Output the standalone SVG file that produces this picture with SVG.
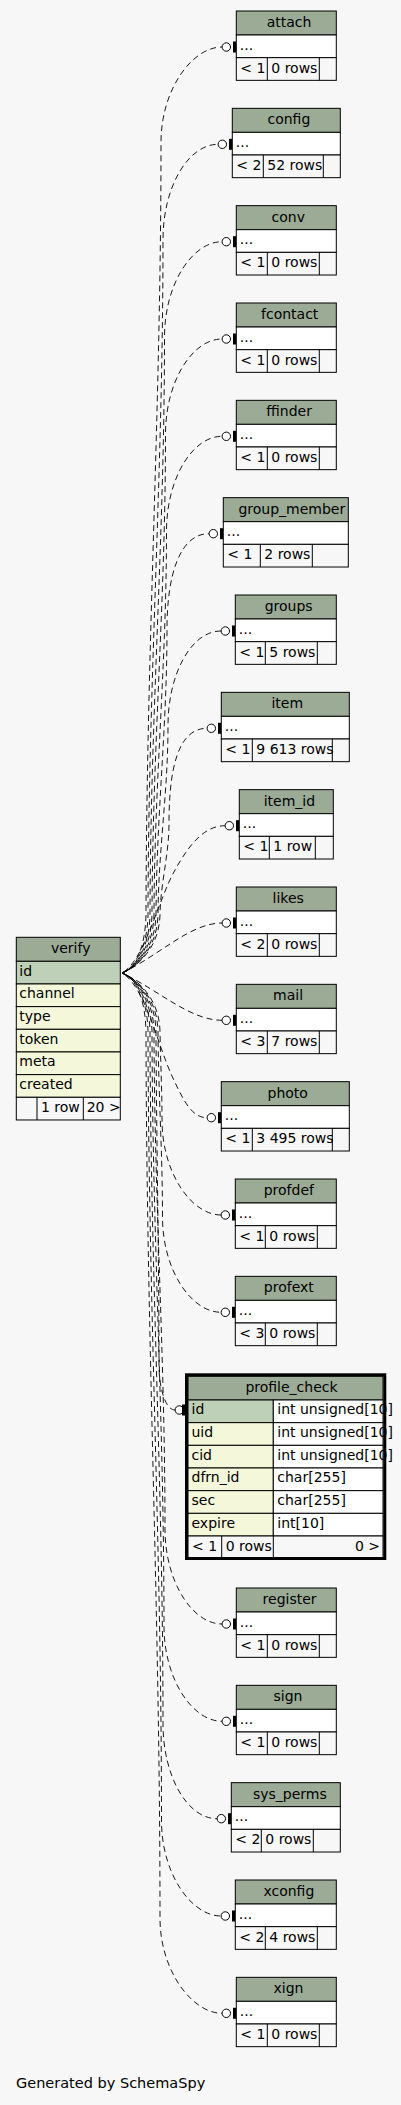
<svg xmlns="http://www.w3.org/2000/svg" width="401" height="2105" viewBox="0 0 401 2105">
<style>
text{font-family:"DejaVu Sans","Liberation Sans",sans-serif;font-size:14px;fill:#000}
.c{text-anchor:middle}
.e{text-anchor:end}
.hd{fill:#9bab96;stroke:#000;stroke-width:1}
.rw{fill:#fff;stroke:#000;stroke-width:1}
.ty{fill:#fff;stroke:#000;stroke-width:1}
.ft{fill:#f7f7f7;stroke:#000;stroke-width:1}
.pk{fill:#bed1b8;stroke:#000;stroke-width:1}
.col{fill:#f4f7da;stroke:#000;stroke-width:1}
.sp{stroke:#000;stroke-width:1}
.edge{fill:none;stroke:#000;stroke-width:0.9;stroke-dasharray:6,4}
.d1{stroke-dashoffset:2}.d2{stroke-dashoffset:4}.d3{stroke-dashoffset:6}.d4{stroke-dashoffset:8}
.o{fill:#fff;stroke:#000;stroke-width:1}
.bar{fill:#000}
</style>
<rect x="0" y="0" width="401" height="2105" fill="#f7f7f7"/>

<g id="connectors">
<path class="edge" d="M122,973 C135,968 145,950 146,915 C146.5,644.4 161,412.6 161,142 C161,89.8 192.1,47 222.1,47"/>
<path class="edge d3" d="M122,973 C135,968 147,950 148,915 C148.5,678.5 163,475.8 163,239.3 C163,187 188.1,144.3 218.1,144.3"/>
<path class="edge d1" d="M122,973 C135,968 149,950 150,915 C150.5,712.6 164.5,539.1 164.5,336.7 C164.5,284.4 192.1,241.7 222.1,241.7"/>
<path class="edge d4" d="M122,973 C135,968 151,950 152,915 C152.5,746.6 165.5,602.4 165.5,434 C165.5,381.8 192.1,339 222.1,339"/>
<path class="edge d2" d="M122,973 C135,968 153,950 154,915 C154.5,780.7 166.5,665.6 166.5,531.3 C166.5,479 192.1,436.3 222.1,436.3"/>
<path class="edge" d="M122,973 C135,968 155,950 156,915 C156.5,814.8 167,728.9 167,628.7 C167,576.4 179.1,533.7 209.1,533.7"/>
<path class="edge d3" d="M122,973 C135,968 157,950 158,915 C158.5,848.9 168,792.2 168,726 C168,673.8 191.1,631 221.1,631"/>
<path class="edge d1" d="M122,973 C135,968 159,950 160,915 C160.5,882.9 169,855.4 169,823.3 C169,771 177.1,728.3 207.1,728.3"/>
<path class="edge d4" d="M122,973 C145,960 158,900 175,870 C190,843 205,825.7 225.1,825.7"/>
<path class="edge" d="M122,973 C160,955 190,923 222.1,923"/>
<path class="edge d2" d="M122,973 C160,991 190,1020.3 222.1,1020.3"/>
<path class="edge d3" d="M122,973 C145,986 158,1046 172,1076 C184,1102 192,1117.7 207.1,1117.7"/>
<path class="edge d1" d="M122,973 C135,978 159,996 160,1031 C160.5,1062.2 162,1088.9 162,1120 C162,1172.3 191.1,1215 221.1,1215"/>
<path class="edge d4" d="M122,973 C135,978 157,996 158,1031 C158.5,1096.2 162.5,1152.1 162.5,1217.3 C162.5,1269.6 191.1,1312.3 221.1,1312.3"/>
<path class="edge" d="M122,973 C135,978 155,996 156,1031 C156.5,1148.4 159,1248.9 159,1366 C159,1386.5 165,1410 175.1,1410"/>
<path class="edge d2" d="M122,973 C135,978 153,996 154,1031 C154.5,1205.3 165,1354.7 165,1529 C165,1581.3 192.1,1624 222.1,1624"/>
<path class="edge d3" d="M122,973 C135,978 151,996 152,1031 C152.5,1239.4 164,1417.9 164,1626.3 C164,1678.6 192.1,1721.3 222.1,1721.3"/>
<path class="edge d1" d="M122,973 C135,978 149,996 150,1031 C150.5,1273.4 163,1481.3 163,1723.7 C163,1776 187.1,1818.7 217.1,1818.7"/>
<path class="edge d4" d="M122,973 C135,978 147,996 148,1031 C148.5,1307.5 161.5,1544.5 161.5,1821 C161.5,1873.3 191.1,1916 221.1,1916"/>
<path class="edge d2" d="M122,973 C135,978 145,996 146,1031 C146.5,1341.6 160,1607.7 160,1918.3 C160,1970.6 192.1,2013.3 222.1,2013.3"/>
<circle class="o" cx="226.3" cy="47" r="4.2"/><rect class="bar" x="233" y="41.5" width="3.3" height="11"/>
<circle class="o" cx="222.3" cy="144.3" r="4.2"/><rect class="bar" x="229" y="138.8" width="3.3" height="11"/>
<circle class="o" cx="226.3" cy="241.7" r="4.2"/><rect class="bar" x="233" y="236.2" width="3.3" height="11"/>
<circle class="o" cx="226.3" cy="339" r="4.2"/><rect class="bar" x="233" y="333.5" width="3.3" height="11"/>
<circle class="o" cx="226.3" cy="436.3" r="4.2"/><rect class="bar" x="233" y="430.8" width="3.3" height="11"/>
<circle class="o" cx="213.3" cy="533.7" r="4.2"/><rect class="bar" x="220" y="528.2" width="3.3" height="11"/>
<circle class="o" cx="225.3" cy="631" r="4.2"/><rect class="bar" x="232" y="625.5" width="3.3" height="11"/>
<circle class="o" cx="211.3" cy="728.3" r="4.2"/><rect class="bar" x="218" y="722.8" width="3.3" height="11"/>
<circle class="o" cx="229.3" cy="825.7" r="4.2"/><rect class="bar" x="236" y="820.2" width="3.3" height="11"/>
<circle class="o" cx="226.3" cy="923" r="4.2"/><rect class="bar" x="233" y="917.5" width="3.3" height="11"/>
<circle class="o" cx="226.3" cy="1020.3" r="4.2"/><rect class="bar" x="233" y="1014.8" width="3.3" height="11"/>
<circle class="o" cx="211.3" cy="1117.7" r="4.2"/><rect class="bar" x="218" y="1112.2" width="3.3" height="11"/>
<circle class="o" cx="225.3" cy="1215" r="4.2"/><rect class="bar" x="232" y="1209.5" width="3.3" height="11"/>
<circle class="o" cx="225.3" cy="1312.3" r="4.2"/><rect class="bar" x="232" y="1306.8" width="3.3" height="11"/>
<circle class="o" cx="179.3" cy="1410" r="4.2"/><rect class="bar" x="182" y="1404.5" width="3.3" height="11"/>
<circle class="o" cx="226.3" cy="1624" r="4.2"/><rect class="bar" x="233" y="1618.5" width="3.3" height="11"/>
<circle class="o" cx="226.3" cy="1721.3" r="4.2"/><rect class="bar" x="233" y="1715.8" width="3.3" height="11"/>
<circle class="o" cx="221.3" cy="1818.7" r="4.2"/><rect class="bar" x="228" y="1813.2" width="3.3" height="11"/>
<circle class="o" cx="225.3" cy="1916" r="4.2"/><rect class="bar" x="232" y="1910.5" width="3.3" height="11"/>
<circle class="o" cx="226.3" cy="2013.3" r="4.2"/><rect class="bar" x="233" y="2007.8" width="3.3" height="11"/>
</g>

<g id="attach" transform="translate(236.3,11)">
<rect class="hd" x="0" y="0" width="100" height="24"/><text class="c" x="52.7" y="16">attach</text>
<rect class="rw" x="0" y="24" width="100" height="22.67"/><text x="3.5" y="38.5">...</text>
<rect class="ft" x="0" y="46.67" width="100" height="22.67"/><text x="4" y="61.5">&lt; 1</text><text x="35" y="61.5">0 rows</text>
<line class="sp" x1="31" y1="46.67" x2="31" y2="69.33"/><line class="sp" x1="83" y1="46.67" x2="83" y2="69.33"/>
</g>
<g id="config" transform="translate(232.3,108.33)">
<rect class="hd" x="0" y="0" width="108" height="24"/><text class="c" x="56.6" y="16">config</text>
<rect class="rw" x="0" y="24" width="108" height="22.67"/><text x="3.5" y="38.5">...</text>
<rect class="ft" x="0" y="46.67" width="108" height="22.67"/><text x="4" y="61.5">&lt; 2</text><text x="35" y="61.5">52 rows</text>
<line class="sp" x1="31" y1="46.67" x2="31" y2="69.33"/><line class="sp" x1="91" y1="46.67" x2="91" y2="69.33"/>
</g>
<g id="conv" transform="translate(236.3,205.67)">
<rect class="hd" x="0" y="0" width="100" height="24"/><text class="c" x="52" y="16">conv</text>
<rect class="rw" x="0" y="24" width="100" height="22.67"/><text x="3.5" y="38.5">...</text>
<rect class="ft" x="0" y="46.67" width="100" height="22.67"/><text x="4" y="61.5">&lt; 1</text><text x="35" y="61.5">0 rows</text>
<line class="sp" x1="31" y1="46.67" x2="31" y2="69.33"/><line class="sp" x1="83" y1="46.67" x2="83" y2="69.33"/>
</g>
<g id="fcontact" transform="translate(236.3,303)">
<rect class="hd" x="0" y="0" width="100" height="24"/><text class="c" x="53.4" y="16">fcontact</text>
<rect class="rw" x="0" y="24" width="100" height="22.67"/><text x="3.5" y="38.5">...</text>
<rect class="ft" x="0" y="46.67" width="100" height="22.67"/><text x="4" y="61.5">&lt; 1</text><text x="35" y="61.5">0 rows</text>
<line class="sp" x1="31" y1="46.67" x2="31" y2="69.33"/><line class="sp" x1="83" y1="46.67" x2="83" y2="69.33"/>
</g>
<g id="ffinder" transform="translate(236.3,400.33)">
<rect class="hd" x="0" y="0" width="100" height="24"/><text class="c" x="52.8" y="16">ffinder</text>
<rect class="rw" x="0" y="24" width="100" height="22.67"/><text x="3.5" y="38.5">...</text>
<rect class="ft" x="0" y="46.67" width="100" height="22.67"/><text x="4" y="61.5">&lt; 1</text><text x="35" y="61.5">0 rows</text>
<line class="sp" x1="31" y1="46.67" x2="31" y2="69.33"/><line class="sp" x1="83" y1="46.67" x2="83" y2="69.33"/>
</g>
<g id="group_member" transform="translate(223.3,497.67)">
<rect class="hd" x="0" y="0" width="125" height="24"/><text class="c" x="68.5" y="16">group_member</text>
<rect class="rw" x="0" y="24" width="125" height="22.67"/><text x="3.5" y="38.5">...</text>
<rect class="ft" x="0" y="46.67" width="125" height="22.67"/><text x="4" y="61.5">&lt; 1</text><text x="41" y="61.5">2 rows</text>
<line class="sp" x1="37" y1="46.67" x2="37" y2="69.33"/><line class="sp" x1="89" y1="46.67" x2="89" y2="69.33"/>
</g>
<g id="groups" transform="translate(235.3,595)">
<rect class="hd" x="0" y="0" width="101" height="24"/><text class="c" x="53.4" y="16">groups</text>
<rect class="rw" x="0" y="24" width="101" height="22.67"/><text x="3.5" y="38.5">...</text>
<rect class="ft" x="0" y="46.67" width="101" height="22.67"/><text x="4" y="61.5">&lt; 1</text><text x="34" y="61.5">5 rows</text>
<line class="sp" x1="30" y1="46.67" x2="30" y2="69.33"/><line class="sp" x1="82" y1="46.67" x2="82" y2="69.33"/>
</g>
<g id="item" transform="translate(221.3,692.33)">
<rect class="hd" x="0" y="0" width="128" height="24"/><text class="c" x="66" y="16">item</text>
<rect class="rw" x="0" y="24" width="128" height="22.67"/><text x="3.5" y="38.5">...</text>
<rect class="ft" x="0" y="46.67" width="128" height="22.67"/><text x="4" y="61.5">&lt; 1</text><text x="35" y="61.5">9 613 rows</text>
<line class="sp" x1="31" y1="46.67" x2="31" y2="69.33"/><line class="sp" x1="111" y1="46.67" x2="111" y2="69.33"/>
</g>
<g id="item_id" transform="translate(239.3,789.67)">
<rect class="hd" x="0" y="0" width="94" height="24"/><text class="c" x="50.1" y="16">item_id</text>
<rect class="rw" x="0" y="24" width="94" height="22.67"/><text x="3.5" y="38.5">...</text>
<rect class="ft" x="0" y="46.67" width="94" height="22.67"/><text x="4" y="61.5">&lt; 1</text><text x="34" y="61.5">1 row</text>
<line class="sp" x1="30" y1="46.67" x2="30" y2="69.33"/><line class="sp" x1="76" y1="46.67" x2="76" y2="69.33"/>
</g>
<g id="likes" transform="translate(236.3,887)">
<rect class="hd" x="0" y="0" width="100" height="24"/><text class="c" x="51.9" y="16">likes</text>
<rect class="rw" x="0" y="24" width="100" height="22.67"/><text x="3.5" y="38.5">...</text>
<rect class="ft" x="0" y="46.67" width="100" height="22.67"/><text x="4" y="61.5">&lt; 2</text><text x="35" y="61.5">0 rows</text>
<line class="sp" x1="31" y1="46.67" x2="31" y2="69.33"/><line class="sp" x1="83" y1="46.67" x2="83" y2="69.33"/>
</g>
<g id="mail" transform="translate(236.3,984.33)">
<rect class="hd" x="0" y="0" width="100" height="24"/><text class="c" x="51.8" y="16">mail</text>
<rect class="rw" x="0" y="24" width="100" height="22.67"/><text x="3.5" y="38.5">...</text>
<rect class="ft" x="0" y="46.67" width="100" height="22.67"/><text x="4" y="61.5">&lt; 3</text><text x="35" y="61.5">7 rows</text>
<line class="sp" x1="31" y1="46.67" x2="31" y2="69.33"/><line class="sp" x1="83" y1="46.67" x2="83" y2="69.33"/>
</g>
<g id="photo" transform="translate(221.3,1081.67)">
<rect class="hd" x="0" y="0" width="128" height="24"/><text class="c" x="66.4" y="16">photo</text>
<rect class="rw" x="0" y="24" width="128" height="22.67"/><text x="3.5" y="38.5">...</text>
<rect class="ft" x="0" y="46.67" width="128" height="22.67"/><text x="4" y="61.5">&lt; 1</text><text x="35" y="61.5">3 495 rows</text>
<line class="sp" x1="31" y1="46.67" x2="31" y2="69.33"/><line class="sp" x1="111" y1="46.67" x2="111" y2="69.33"/>
</g>
<g id="profdef" transform="translate(235.3,1179)">
<rect class="hd" x="0" y="0" width="101" height="24"/><text class="c" x="53.5" y="16">profdef</text>
<rect class="rw" x="0" y="24" width="101" height="22.67"/><text x="3.5" y="38.5">...</text>
<rect class="ft" x="0" y="46.67" width="101" height="22.67"/><text x="4" y="61.5">&lt; 1</text><text x="34" y="61.5">0 rows</text>
<line class="sp" x1="30" y1="46.67" x2="30" y2="69.33"/><line class="sp" x1="82" y1="46.67" x2="82" y2="69.33"/>
</g>
<g id="profext" transform="translate(235.3,1276.33)">
<rect class="hd" x="0" y="0" width="101" height="24"/><text class="c" x="53.5" y="16">profext</text>
<rect class="rw" x="0" y="24" width="101" height="22.67"/><text x="3.5" y="38.5">...</text>
<rect class="ft" x="0" y="46.67" width="101" height="22.67"/><text x="4" y="61.5">&lt; 3</text><text x="34" y="61.5">0 rows</text>
<line class="sp" x1="30" y1="46.67" x2="30" y2="69.33"/><line class="sp" x1="82" y1="46.67" x2="82" y2="69.33"/>
</g>
<g id="profile_check" transform="translate(185,1373.3)">
<rect class="hd" x="3" y="3" width="195" height="23.7"/><text class="c" x="106.5" y="18.7">profile_check</text>
<rect class="pk" x="3" y="26.7" width="85.3" height="22.67"/><rect class="ty" x="88.3" y="26.7" width="109.7" height="22.67"/>
<rect class="col" x="3" y="49.37" width="85.3" height="22.67"/><rect class="ty" x="88.3" y="49.37" width="109.7" height="22.67"/>
<rect class="col" x="3" y="72.03" width="85.3" height="22.67"/><rect class="ty" x="88.3" y="72.03" width="109.7" height="22.67"/>
<rect class="col" x="3" y="94.7" width="85.3" height="22.67"/><rect class="ty" x="88.3" y="94.7" width="109.7" height="22.67"/>
<rect class="col" x="3" y="117.37" width="85.3" height="22.67"/><rect class="ty" x="88.3" y="117.37" width="109.7" height="22.67"/>
<rect class="col" x="3" y="140.03" width="85.3" height="22.67"/><rect class="ty" x="88.3" y="140.03" width="109.7" height="22.67"/>
<rect class="ft" x="3" y="162.7" width="195" height="22.67"/>
<line class="sp" x1="36.7" y1="162.7" x2="36.7" y2="185.37"/><line class="sp" x1="88.3" y1="162.7" x2="88.3" y2="185.37"/>
<text x="6.5" y="41.2">id</text><text x="92.3" y="41.2">int unsigned[10]</text>
<text x="6.5" y="63.9">uid</text><text x="92.3" y="63.9">int unsigned[10]</text>
<text x="6.5" y="86.5">cid</text><text x="92.3" y="86.5">int unsigned[10]</text>
<text x="6.5" y="109.2">dfrn_id</text><text x="92.3" y="109.2">char[255]</text>
<text x="6.5" y="131.9">sec</text><text x="92.3" y="131.9">char[255]</text>
<text x="6.5" y="154.5">expire</text><text x="92.3" y="154.5">int[10]</text>
<text x="7" y="177.5">&lt; 1</text><text x="40.7" y="177.5">0 rows</text><text class="e" x="195" y="177.5">0 &gt;</text>
<rect x="1.5" y="1.5" width="198.3" height="183.7" fill="none" stroke="#000" stroke-width="3"/>
</g>
<g id="register" transform="translate(236.3,1588)">
<rect class="hd" x="0" y="0" width="100" height="24"/><text class="c" x="53.3" y="16">register</text>
<rect class="rw" x="0" y="24" width="100" height="22.67"/><text x="3.5" y="38.5">...</text>
<rect class="ft" x="0" y="46.67" width="100" height="22.67"/><text x="4" y="61.5">&lt; 1</text><text x="35" y="61.5">0 rows</text>
<line class="sp" x1="31" y1="46.67" x2="31" y2="69.33"/><line class="sp" x1="83" y1="46.67" x2="83" y2="69.33"/>
</g>
<g id="sign" transform="translate(236.3,1685.33)">
<rect class="hd" x="0" y="0" width="100" height="24"/><text class="c" x="51.7" y="16">sign</text>
<rect class="rw" x="0" y="24" width="100" height="22.67"/><text x="3.5" y="38.5">...</text>
<rect class="ft" x="0" y="46.67" width="100" height="22.67"/><text x="4" y="61.5">&lt; 1</text><text x="35" y="61.5">0 rows</text>
<line class="sp" x1="31" y1="46.67" x2="31" y2="69.33"/><line class="sp" x1="83" y1="46.67" x2="83" y2="69.33"/>
</g>
<g id="sys_perms" transform="translate(231.3,1782.67)">
<rect class="hd" x="0" y="0" width="109" height="24"/><text class="c" x="58.5" y="16">sys_perms</text>
<rect class="rw" x="0" y="24" width="109" height="22.67"/><text x="3.5" y="38.5">...</text>
<rect class="ft" x="0" y="46.67" width="109" height="22.67"/><text x="4" y="61.5">&lt; 2</text><text x="34" y="61.5">0 rows</text>
<line class="sp" x1="30" y1="46.67" x2="30" y2="69.33"/><line class="sp" x1="82" y1="46.67" x2="82" y2="69.33"/>
</g>
<g id="xconfig" transform="translate(235.3,1880)">
<rect class="hd" x="0" y="0" width="101" height="24"/><text class="c" x="53.6" y="16">xconfig</text>
<rect class="rw" x="0" y="24" width="101" height="22.67"/><text x="3.5" y="38.5">...</text>
<rect class="ft" x="0" y="46.67" width="101" height="22.67"/><text x="4" y="61.5">&lt; 2</text><text x="34" y="61.5">4 rows</text>
<line class="sp" x1="30" y1="46.67" x2="30" y2="69.33"/><line class="sp" x1="82" y1="46.67" x2="82" y2="69.33"/>
</g>
<g id="xign" transform="translate(236.3,1977.33)">
<rect class="hd" x="0" y="0" width="100" height="24"/><text class="c" x="52.2" y="16">xign</text>
<rect class="rw" x="0" y="24" width="100" height="22.67"/><text x="3.5" y="38.5">...</text>
<rect class="ft" x="0" y="46.67" width="100" height="22.67"/><text x="4" y="61.5">&lt; 1</text><text x="35" y="61.5">0 rows</text>
<line class="sp" x1="31" y1="46.67" x2="31" y2="69.33"/><line class="sp" x1="83" y1="46.67" x2="83" y2="69.33"/>
</g>
<g id="verify" transform="translate(16.3,937.3)">
<rect class="hd" x="0" y="0" width="104" height="24"/><text class="c" x="54.4" y="16">verify</text>
<rect class="pk" x="0" y="24" width="104" height="22.67"/><text x="3" y="38.5">id</text>
<rect class="col" x="0" y="46.67" width="104" height="22.67"/><text x="3" y="61.2">channel</text>
<rect class="col" x="0" y="69.33" width="104" height="22.67"/><text x="3" y="83.8">type</text>
<rect class="col" x="0" y="92" width="104" height="22.67"/><text x="3" y="106.5">token</text>
<rect class="col" x="0" y="114.67" width="104" height="22.67"/><text x="3" y="129.2">meta</text>
<rect class="col" x="0" y="137.33" width="104" height="22.67"/><text x="3" y="151.8">created</text>
<rect class="ft" x="0" y="160" width="104" height="22.67"/><text x="24.7" y="174.8">1 row</text><text x="70.4" y="174.8">20 &gt;</text>
<line class="sp" x1="20.7" y1="160" x2="20.7" y2="182.67"/><line class="sp" x1="67" y1="160" x2="67" y2="182.67"/>
</g>
<text x="16" y="2088" style="font-size:14.5px">Generated by SchemaSpy</text>
</svg>
